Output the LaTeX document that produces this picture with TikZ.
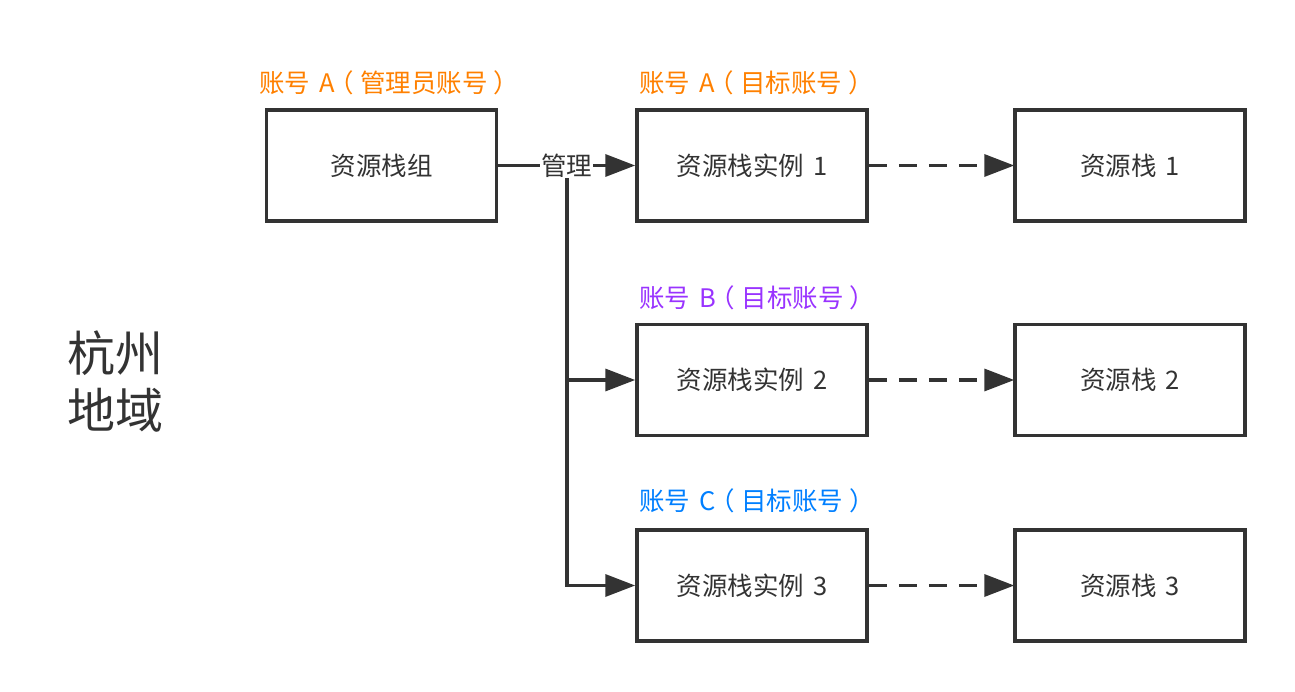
\documentclass[tikz,border=0pt]{standalone}
\usepackage{fontspec}
\setmainfont[WordSpace=1.6]{Noto Sans CJK SC}
\usetikzlibrary{arrows.meta}
\definecolor{ink}{HTML}{333333}
\definecolor{orangeA}{HTML}{FF8000}
\definecolor{purpleB}{HTML}{9933FF}
\definecolor{blueC}{HTML}{007FFF}
% full-width parentheses with the ink centred in their em box
\newcommand\lpz{\makebox[1em][l]{\hspace{-0.24em}（}}
\newcommand\rpz{\makebox[1em][l]{\hspace{0.24em}）}}
\tikzset{
  box/.style={draw=ink, line width=3.5pt, minimum width=230pt, minimum height=111pt, inner sep=0pt, font=\fontsize{25.5}{30}\selectfont, text=ink},
  acct/.style={anchor=west, inner sep=0pt, font=\fontsize{25.5}{30}\selectfont},
  conn/.style={draw=ink, line width=3.5pt, -{Triangle[length=30pt,width=22pt]}},
  dconn/.style={draw=ink, line width=3.5pt, dash pattern=on 18pt off 12pt, -{Triangle[length=30pt,width=22pt,sep=-1pt]}},
}
\begin{document}
\begin{tikzpicture}[x=1pt,y=1pt]
\useasboundingbox (0,0) rectangle (1295,-692);
% boxes
\node[box] (grp) at (381.5,-165.5) {资源栈组};
\node[box] (i1) at (752,-165.5) {资源栈实例 1};
\node[box] (s1) at (1130,-165.5) {资源栈 1};
\node[box] (i2) at (752,-380) {资源栈实例 2};
\node[box] (s2) at (1130,-380) {资源栈 2};
\node[box] (i3) at (752,-585.5) {资源栈实例 3};
\node[box] (s3) at (1130,-585.5) {资源栈 3};
% account labels
\node[acct, text=orangeA] (la) at (259,-83) {账号 A\lpz 管理员账号\rpz};
\node[acct, text=orangeA] (l1) at (639,-83) {账号 A\lpz 目标账号\rpz};
\node[acct, text=purpleB] (l2) at (639,-298) {账号 B\lpz 目标账号\rpz};
\node[acct, text=blueC] (l3) at (639,-501) {账号 C\lpz 目标账号\rpz};
% region
\node[font=\fontsize{48}{57}\selectfont, text=ink, align=center, inner sep=0pt] (reg) at (115,-382) {杭州\\地域};
% connectors
\coordinate (br) at (567,-165.5);
\draw[conn] (br) |- (i2.west);
\draw[conn] (br) |- (i3.west);
\draw[conn] (grp) -- node[fill=white, text=ink, inner sep=1pt, font=\fontsize{25.5}{30}\selectfont] (mg) {管理} (i1);
\draw[dconn] (i1) -- (s1);
\draw[dconn] (i2) -- (s2);
\draw[dconn] (i3) -- (s3);
\end{tikzpicture}
\end{document}
